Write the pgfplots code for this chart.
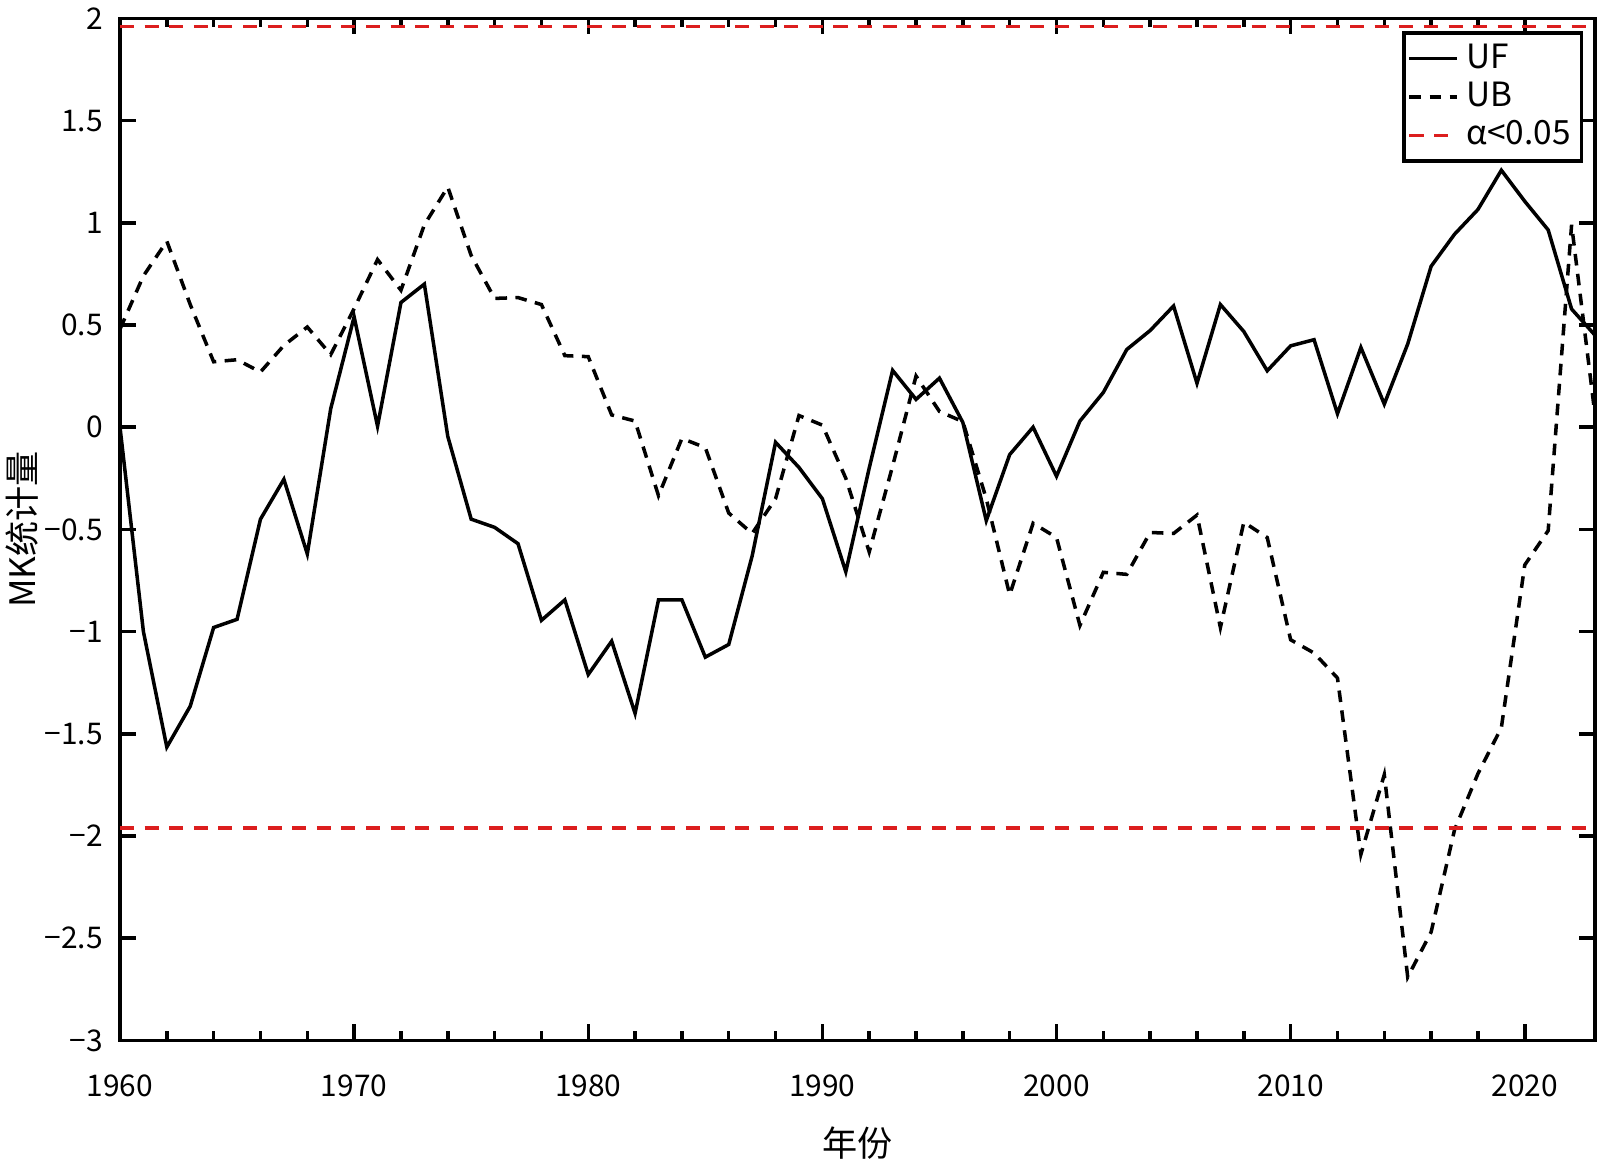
\documentclass[border=0pt]{standalone}
\usepackage{fontspec}
\setmainfont{Noto Sans CJK SC}
\usepackage{pgfplots}
\pgfplotsset{compat=1.18}
\usetikzlibrary{calc}
\definecolor{sigred}{RGB}{220,30,30}

\pgfplotstableread{
year uf
1960 0
1961 -1.0
1962 -1.565
1963 -1.365
1964 -0.98
1965 -0.94
1966 -0.45
1967 -0.255
1968 -0.62
1969 0.09
1970 0.54
1971 0.005
1972 0.61
1973 0.70
1974 -0.045
1975 -0.45
1976 -0.49
1977 -0.57
1978 -0.945
1979 -0.845
1980 -1.21
1981 -1.047
1982 -1.40
1983 -0.845
1984 -0.845
1985 -1.125
1986 -1.063
1987 -0.63
1988 -0.074
1989 -0.197
1990 -0.35
1991 -0.707
1992 -0.20
1993 0.278
1994 0.136
1995 0.24
1996 0.023
1997 -0.457
1998 -0.134
1999 0.0
2000 -0.24
2001 0.03
2002 0.17
2003 0.38
2004 0.473
2005 0.593
2006 0.215
2007 0.60
2008 0.468
2009 0.276
2010 0.398
2011 0.428
2012 0.066
2013 0.39
2014 0.113
2015 0.407
2016 0.787
2017 0.944
2018 1.065
2019 1.257
2020 1.105
2021 0.965
2022 0.578
2023 0.45
}\uftable

\pgfplotstableread{
year ub
1960 0.48
1961 0.74
1962 0.91
1963 0.60
1964 0.32
1965 0.33
1966 0.27
1967 0.40
1968 0.49
1969 0.355
1970 0.58
1971 0.82
1972 0.67
1973 0.99
1974 1.175
1975 0.84
1976 0.63
1977 0.634
1978 0.60
1979 0.35
1980 0.345
1981 0.06
1982 0.03
1983 -0.335
1984 -0.055
1985 -0.10
1986 -0.42
1987 -0.52
1988 -0.35
1989 0.057
1990 0.01
1991 -0.25
1992 -0.61
1993 -0.19
1994 0.25
1995 0.077
1996 0.027
1997 -0.35
1998 -0.82
1999 -0.47
2000 -0.54
2001 -0.97
2002 -0.71
2003 -0.72
2004 -0.515
2005 -0.52
2006 -0.43
2007 -0.98
2008 -0.465
2009 -0.54
2010 -1.04
2011 -1.105
2012 -1.227
2013 -2.09
2014 -1.70
2015 -2.69
2016 -2.47
2017 -1.97
2018 -1.695
2019 -1.47
2020 -0.674
2021 -0.506
2022 0.99
2023 0.06
}\ubtable

\begin{document}
\begin{tikzpicture}
\begin{axis}[
  name=ax,
  scale only axis,
  width=147.5mm, height=102.2mm,
  xmin=1960, xmax=2023, ymin=-3, ymax=2,
  xtick={1960,1970,1980,1990,2000,2010,2020},
  xticklabels={1960,1970,1980,1990,2000,2010,2020},
  minor x tick num=4,
  ytick={-3,-2.5,-2,-1.5,-1,-0.5,0,0.5,1,1.5,2},
  yticklabels={−3,−2.5,−2,−1.5,−1,−0.5,0,0.5,1,1.5,2},
  tick align=inside,
  major tick length=1.6mm,
  minor tick length=0.9mm,
  axis line style={line width=1pt, black},
  every tick/.style={black, line width=1pt},
  tick label style={font=\fontsize{8.5}{10}\selectfont},
  xticklabel style={anchor=center, yshift=-4.5mm},
  yticklabel style={xshift=-0.5mm},
  xlabel={年份},
  ylabel={MK统计量},
  label style={font=\fontsize{9}{11}\selectfont},
  every axis x label/.style={at={(axis description cs:0.5,0)}, anchor=center, yshift=-10.3mm},
  every axis y label/.style={at={(axis description cs:-0.0664,0.5)}, anchor=center, rotate=90},
  legend style={at={(1,1)}, anchor=north east, xshift=-1.2mm, yshift=-1.3mm,
    draw=black, line width=1pt, font=\fontsize{9.5}{10}\selectfont,
    inner sep=1pt, row sep=-1.5pt},
  legend cell align=left,
  legend image code/.code={\draw[#1] (0cm,0cm) -- (0.48cm,0cm);},
]
\addplot[black, line width=1pt] table[x=year, y=uf] {\uftable};
\addlegendentry{UF}
\addplot[black, line width=1pt, dash pattern=on 3.3pt off 2.4pt] table[x=year, y=ub] {\ubtable};
\addlegendentry{UB}
\addplot[sigred, line width=1.1pt, dash pattern=on 4pt off 3pt] coordinates {(1960,1.96) (2023,1.96)};
\addlegendentry{α<0.05}
\addplot[sigred, line width=1.1pt, dash pattern=on 4pt off 3pt, forget plot] coordinates {(1960,-1.96) (2023,-1.96)};
\end{axis}
\pgfresetboundingbox
\path ($(ax.south west)+(-12mm,-12.9mm)$) rectangle ($(ax.north east)+(0.5mm,1.84mm)$);
\end{tikzpicture}
\end{document}
